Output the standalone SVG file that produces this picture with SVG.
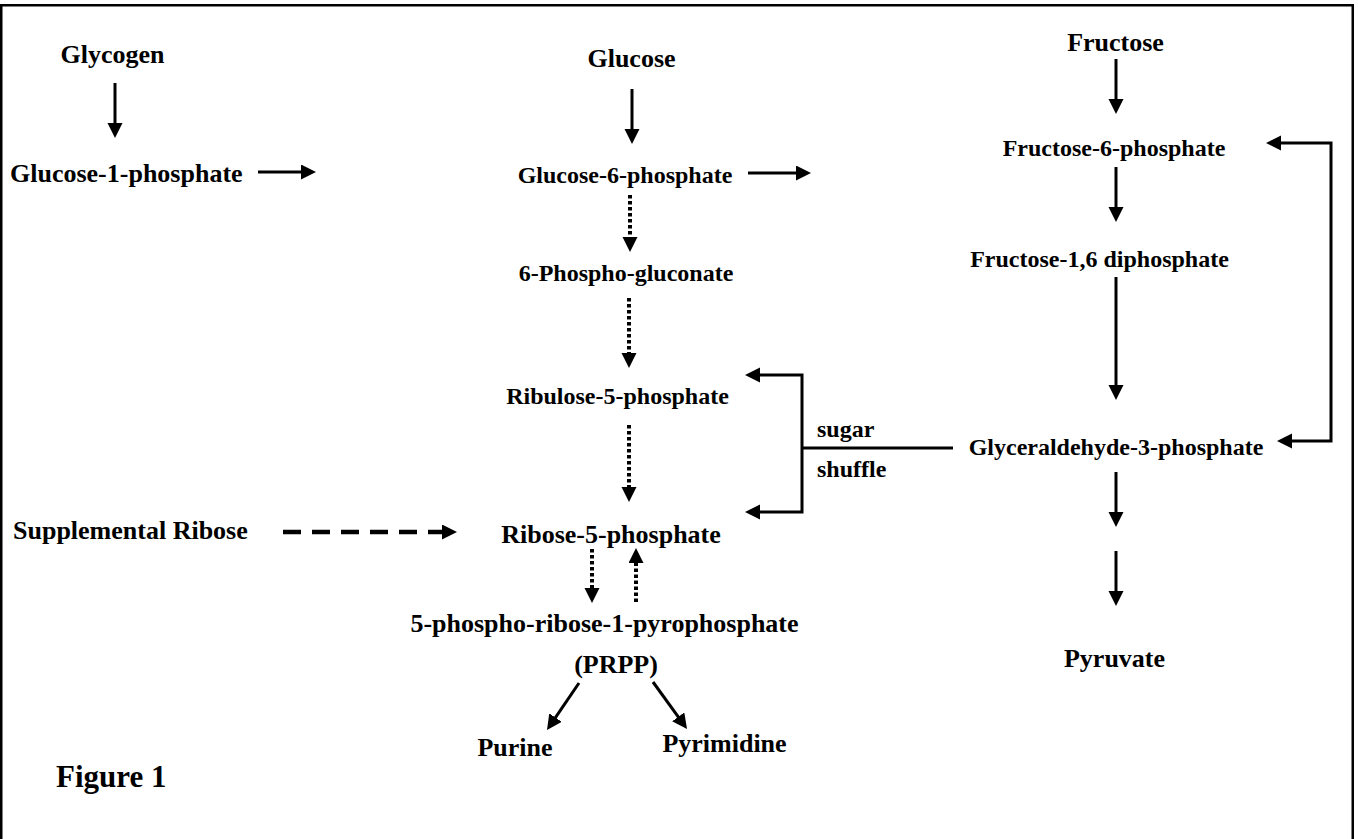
<svg xmlns="http://www.w3.org/2000/svg" width="1358" height="839" viewBox="0 0 1358 839">
<style>
text{font-family:"Liberation Serif","Times New Roman",serif;font-weight:bold;fill:#000}
.l{font-size:26px}.s{font-size:24px}.c{text-anchor:middle}
.a{fill:none;stroke:#000;stroke-width:3}
.dot{stroke-width:4;stroke-dasharray:3.5 2.5}
.dash{stroke-width:4.5;stroke-dasharray:18 11}
</style>
<defs>
<marker id="ah" markerUnits="userSpaceOnUse" markerWidth="16" markerHeight="16" refX="1" refY="7.5" orient="auto-start-reverse" viewBox="0 0 16 16"><path d="M0,0 L15,7.5 L0,15 z" fill="#000"/></marker>
</defs>
<rect x="1.25" y="5.25" width="1351.5" height="840" fill="#fff" stroke="#000" stroke-width="2.5"/>
<g id="n-glycogen"><text class="l c" x="112.5" y="63">Glycogen</text></g>
<g id="n-g1p"><text class="l" x="10" y="182">Glucose-1-phosphate</text></g>
<g id="n-glucose"><text class="l c" x="631.5" y="67">Glucose</text></g>
<g id="n-g6p"><text class="s c" x="625" y="183">Glucose-6-phosphate</text></g>
<g id="n-6pg"><text class="s c" x="626" y="281">6-Phospho-gluconate</text></g>
<g id="n-ru5p"><text class="s c" x="617.5" y="404">Ribulose-5-phosphate</text></g>
<g id="n-r5p"><text class="l c" x="611" y="543">Ribose-5-phosphate</text></g>
<g id="n-prpp"><text class="l c" x="604.5" y="632">5-phospho-ribose-1-pyrophosphate</text><text class="l c" x="616" y="673">(PRPP)</text></g>
<g id="n-purine"><text class="l c" x="515" y="756">Purine</text></g>
<g id="n-pyrimidine"><text class="l c" x="724.5" y="752">Pyrimidine</text></g>
<g id="n-fructose"><text class="l c" x="1115.5" y="51">Fructose</text></g>
<g id="n-f6p"><text class="s c" x="1114" y="156">Fructose-6-phosphate</text></g>
<g id="n-f16dp"><text class="s c" x="1099.5" y="267">Fructose-1,6 diphosphate</text></g>
<g id="n-g3p"><text class="s c" x="1116" y="455">Glyceraldehyde-3-phosphate</text></g>
<g id="n-pyruvate"><text class="l c" x="1114.5" y="667">Pyruvate</text></g>
<g id="n-suppl"><text class="l" x="13" y="539">Supplemental Ribose</text></g>
<g id="n-shuffle"><text class="s" x="817" y="437">sugar</text><text class="s" x="817" y="477">shuffle</text></g>
<g id="n-fig"><text x="56" y="787" style="font-size:31px">Figure 1</text></g>
<g id="connectors">
<path class="a" d="M115,83 V124" marker-end="url(#ah)"/>
<path class="a" d="M258,172 H302" marker-end="url(#ah)"/>
<path class="a" d="M632,89 V130" marker-end="url(#ah)"/>
<path class="a" d="M748,173 H797" marker-end="url(#ah)"/>
<path class="a" d="M1116,59 V100" marker-end="url(#ah)"/>
<path class="a" d="M1116,167 V208" marker-end="url(#ah)"/>
<path class="a" d="M1116,277 V386" marker-end="url(#ah)"/>
<path class="a" d="M1116,472 V513" marker-end="url(#ah)"/>
<path class="a" d="M1116,551 V592" marker-end="url(#ah)"/>
<path class="a" d="M1280,143 H1331 V441 H1291" marker-start="url(#ah)" marker-end="url(#ah)"/>
<path class="a" d="M759,375 H802 V512 H759" marker-start="url(#ah)" marker-end="url(#ah)"/>
<path class="a" d="M802,448 H953"/>
<path class="a dot" d="M630,195 V238" marker-end="url(#ah)"/>
<path class="a dot" d="M629,298 V354" marker-end="url(#ah)"/>
<path class="a dot" d="M629,425 V488" marker-end="url(#ah)"/>
<path class="a dot" d="M592,549 V589" marker-end="url(#ah)"/>
<path class="a dot" d="M636,602 V562" marker-end="url(#ah)"/>
<path class="a dash" d="M283,532 H443" marker-end="url(#ah)"/>
<path class="a" d="M579,683 L554.9,718.4" marker-end="url(#ah)"/>
<path class="a" d="M653,682 L678.8,717.7" marker-end="url(#ah)"/>
</g>
</svg>
